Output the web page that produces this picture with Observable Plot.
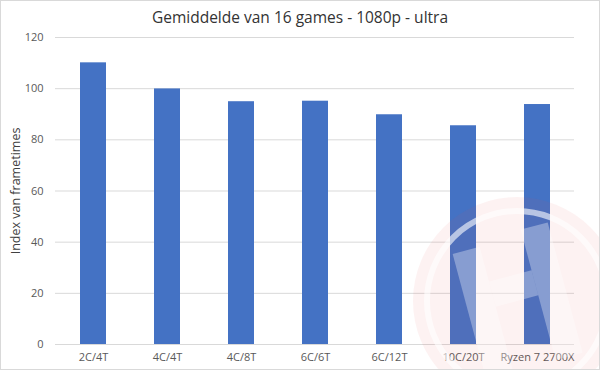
<!DOCTYPE html>
<html>
<head>
<meta charset="utf-8">
<script src="https://cdn.jsdelivr.net/npm/d3@7"></script>
<script src="https://cdn.jsdelivr.net/npm/@observablehq/plot@0.6"></script>
<style>
  html, body { margin: 0; padding: 0; background: #fff; }
  #wrap { position: relative; width: 598px; height: 368px; border: 1px solid #d9d9d9; overflow: hidden; font-family: "Open Sans", sans-serif; }
  #title { height: 27px; line-height: 32px; text-align: center; font-size: 15.5px; color: #333; }
  #wm { position: absolute; left: 0; top: 0; pointer-events: none; }
</style>
</head>
<body>
<div id="wrap">
  <div id="title">Gemiddelde van 16 games - 1080p - ultra</div>
  <div id="chart"></div>
  <svg id="wm" width="598" height="368"></svg>
</div>
<script>
const categories = ["2C/4T", "4C/4T", "4C/8T", "6C/6T", "6C/12T", "10C/20T", "Ryzen 7 2700X"];
const values = [110.1, 99.9, 94.9, 95.1, 89.8, 85.5, 93.8];
const yTicks = [0, 20, 40, 60, 80, 100, 120];

const data = categories.map((c, i) => ({cat: c, v: values[i]}));

const chart = Plot.plot({
  width: 598,
  height: 342,
  marginTop: 9,
  marginBottom: 26,
  marginLeft: 54,
  marginRight: 25,
  style: {fontFamily: "Open Sans, sans-serif", fontSize: "11px", color: "#595959", background: "transparent"},
  x: {domain: categories, paddingInner: 0.65, paddingOuter: 0.325, label: null},
  y: {domain: [0, 120], ticks: yTicks, label: "Index van frametimes", labelAnchor: "center", labelArrow: "none"},
  marks: [
    Plot.gridY(yTicks, {stroke: "#d9d9d9", strokeOpacity: 1, strokeWidth: 1}),
    Plot.axisY(yTicks, {tickSize: 0, tickPadding: 12, label: "Index van frametimes", labelAnchor: "center", labelArrow: "none", labelOffset: 44, fontSize: 11}),
    Plot.axisX({tickSize: 0, tickPadding: 9, label: null, fontSize: 11}),
    Plot.barY(data, {x: "cat", y: "v", fill: "#4472C4"})
  ]
});
document.getElementById("chart").appendChild(chart);
const lab = chart.querySelectorAll("g[aria-label='y-axis label'] text");
lab.forEach(t => { t.style.fontSize = "12.5px"; t.setAttribute("fill", "#404040"); });

// faint watermark logo (decoration)
const wm = d3.select("#wm");
const cx = 516, cy = 300;
wm.append("circle").attr("cx", cx).attr("cy", cy).attr("r", 104).attr("fill", "rgba(225,80,80,0.075)");
wm.append("circle").attr("cx", cx).attr("cy", cy).attr("r", 90).attr("fill", "none").attr("stroke", "rgba(255,255,255,0.6)").attr("stroke-width", 6);
const g = wm.append("g").attr("transform", `translate(${cx},${cy}) rotate(-15)`).attr("fill", "rgba(255,255,255,0.32)");
g.append("rect").attr("x", -50).attr("y", -62).attr("width", 28).attr("height", 135);
g.append("rect").attr("x", 22).attr("y", -68).attr("width", 28).attr("height", 135);
g.append("rect").attr("x", -22).attr("y", -26).attr("width", 44).attr("height", 26);
</script>
</body>
</html>
